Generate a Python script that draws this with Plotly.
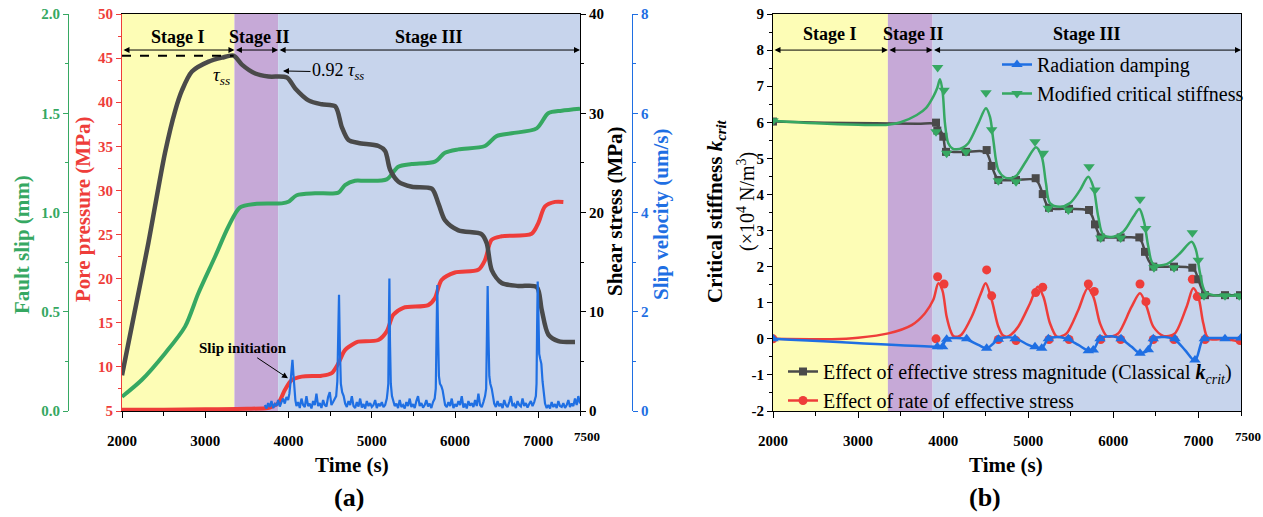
import plotly.graph_objects as go

W, H = 1263, 517
FONT = "Liberation Serif"

GREEN = "#36a862"
RED = "#ee3d3a"
BLUE = "#1f6fe3"
GRAY = "#4a4a4a"
BG_STAGE = ["#fdfdb6", "#c6a9d7", "#c7d4ec"]

# ---------------- shared ----------------
stage_bounds = [2000, 3350, 3875, 7500]
stage_names = ["Stage I", "Stage II", "Stage III"]
x_range = [2000, 7500]

# ---------------- panel (a) ----------------
shear_time = [2000, 2150, 2316, 2516, 2640, 2720, 2840, 3040, 3200, 3340, 3440, 3600, 3760,
              3980, 4080, 4240, 4400, 4560, 4640, 4720, 4840, 5080, 5160, 5220, 5320, 5480,
              5720, 5800, 5880, 6040, 6320, 6380, 6440, 6560, 6760, 6980, 7040, 7120, 7240, 7440]
shear_stress = [3.6, 9.9, 16.9, 26.0, 30.3, 32.3, 34.2, 35.2, 35.6, 35.8, 34.9, 34.0, 33.7,
                33.6, 32.5, 31.3, 30.9, 30.7, 28.6, 27.3, 27.0, 26.7, 26.2, 24.3, 23.1, 22.6,
                22.4, 20.9, 19.2, 18.2, 17.8, 16.9, 14.2, 12.9, 12.6, 12.5, 10.2, 7.7, 7.05, 6.95]

slip_time = [2000, 2236, 2516, 2757, 2917, 3117, 3277, 3417, 3597, 3918, 3998, 4098, 4318,
             4598, 4678, 4798, 4918, 5178, 5318, 5478, 5758, 5878, 6038, 6359, 6499, 6679,
             6980, 7118, 7280, 7500]
fault_slip = [0.072, 0.156, 0.29, 0.425, 0.593, 0.777, 0.928, 1.026, 1.043, 1.046, 1.054, 1.087, 1.097,
              1.100, 1.138, 1.160, 1.160, 1.167, 1.231, 1.244, 1.256, 1.301, 1.318, 1.335, 1.385, 1.399,
              1.424, 1.500, 1.513, 1.523]

pore_time = [2000, 2500, 3000, 3500, 3750, 3800, 3877, 3957, 4037, 4158, 4398, 4518, 4598,
             4678, 4798, 4838, 5078, 5178, 5258, 5378, 5678, 5758, 5838, 5998, 6278, 6359,
             6438, 6558, 6919, 6999, 7080, 7200, 7300]
pore_pressure = [5.15, 5.15, 5.2, 5.25, 5.35, 5.5, 5.9, 7.4, 8.5, 8.9, 9.0, 9.3, 10.4,
                 11.9, 12.7, 12.86, 13.05, 14.0, 15.9, 16.7, 17.0, 17.8, 19.85, 20.7, 21.0, 22.1,
                 24.4, 24.8, 25.1, 26.3, 28.2, 28.7, 28.7]

vel_time = [3715, 3735, 3755, 3775, 3795, 3815, 3835, 3855, 3875, 3895, 3915, 3935, 3955, 3975, 3995, 4010,
            4022, 4036, 4047, 4058, 4070, 4082,
            4095, 4115, 4135, 4155, 4175, 4195, 4215, 4235, 4255, 4275, 4295, 4315, 4335, 4355, 4375, 4395,
            4415, 4435, 4455, 4475, 4495, 4515, 4535, 4555,
            4572, 4586, 4596, 4606, 4616, 4628, 4644, 4662, 4680,
            4700, 4720, 4740, 4760, 4780, 4800, 4820, 4840, 4860, 4880, 4900, 4920, 4940, 4960, 4980, 5000,
            5020, 5040, 5060, 5080, 5100, 5120, 5140, 5160, 5180,
            5190, 5198, 5204, 5211, 5218, 5228, 5242, 5258,
            5275, 5295, 5315, 5335, 5355, 5375, 5395, 5415, 5435, 5455, 5475, 5495, 5515, 5535, 5555, 5575,
            5595, 5615, 5635, 5655, 5675, 5695, 5715, 5735, 5755,
            5768, 5777, 5786, 5796, 5806, 5818, 5835, 5850, 5865, 5880,
            5900, 5920, 5940, 5960, 5980, 6000, 6020, 6040, 6060, 6080, 6100, 6120, 6140, 6160, 6180, 6200,
            6220, 6240, 6260, 6280, 6300, 6320, 6340, 6360,
            6373, 6382, 6391, 6401, 6411, 6423, 6440, 6455, 6470,
            6490, 6510, 6530, 6550, 6570, 6590, 6610, 6630, 6650, 6670, 6690, 6710, 6730, 6750, 6770, 6790,
            6810, 6830, 6850, 6870, 6890, 6910, 6930, 6950, 6970,
            6978, 6985, 6992, 7001, 7010, 7022, 7036, 7050, 7065, 7080,
            7100, 7120, 7140, 7160, 7180, 7200, 7220, 7240, 7260, 7280, 7300, 7320, 7340, 7360, 7380, 7400,
            7420, 7440, 7460, 7480, 7500]
slip_velocity = [0.12, 0.05, 0.16, 0.08, 0.20, 0.06, 0.14, 0.10, 0.22, 0.09, 0.18, 0.25, 0.15, 0.28, 0.22, 0.35,
                 0.55, 0.85, 1.03, 0.75, 0.38, 0.22,
                 0.10, 0.18, 0.06, 0.25, 0.12, 0.08, 0.30, 0.10, 0.15, 0.05, 0.20, 0.12, 0.35, 0.10, 0.16, 0.06,
                 0.22, 0.12, 0.09, 0.28, 0.38, 0.12, 0.18, 0.25,
                 0.30, 0.60, 1.50, 2.34, 1.30, 0.55, 0.38, 0.30, 0.15,
                 0.08, 0.20, 0.12, 0.30, 0.10, 0.06, 0.18, 0.09, 0.25, 0.07, 0.14, 0.05, 0.20, 0.10, 0.16, 0.08,
                 0.12, 0.22, 0.06, 0.15, 0.10, 0.18, 0.08, 0.12, 0.25,
                 0.40, 0.55, 1.60, 2.67, 1.40, 0.55, 0.30, 0.20,
                 0.10, 0.15, 0.06, 0.22, 0.08, 0.12, 0.05, 0.18, 0.10, 0.25, 0.08, 0.14, 0.06, 0.20, 0.30, 0.10,
                 0.16, 0.07, 0.12, 0.22, 0.09, 0.15, 0.06, 0.18, 0.25,
                 0.45, 1.70, 2.54, 1.50, 0.70, 0.55, 0.50, 0.42, 0.25, 0.12,
                 0.08, 0.18, 0.10, 0.25, 0.06, 0.14, 0.09, 0.20, 0.12, 0.30, 0.07, 0.15, 0.05, 0.20, 0.11, 0.16,
                 0.08, 0.22, 0.10, 0.35, 0.12, 0.08, 0.18, 0.30,
                 0.45, 1.60, 2.52, 1.50, 0.70, 0.55, 0.45, 0.30, 0.15,
                 0.08, 0.20, 0.10, 0.15, 0.06, 0.22, 0.12, 0.08, 0.18, 0.30, 0.10, 0.14, 0.06, 0.20, 0.12, 0.09,
                 0.25, 0.10, 0.16, 0.07, 0.14, 0.20, 0.10, 0.18, 0.30,
                 0.55, 1.70, 2.61, 1.90, 1.15, 1.05, 0.95, 0.60, 0.30, 0.15,
                 0.06, 0.12, 0.05, 0.18, 0.08, 0.14, 0.06, 0.20, 0.10, 0.08, 0.16, 0.06, 0.12, 0.22, 0.08, 0.15,
                 0.10, 0.25, 0.12, 0.30, 0.15]
assert len(vel_time) == len(slip_velocity)

tau_ss = 35.8

# ---------------- panel (b) ----------------
classical_time = [2000, 2600, 3200, 3700, 3916, 3960, 4001, 4033, 4100, 4268, 4450, 4511, 4570, 4610,
                  4648, 4856, 5050, 5110, 5170, 5210, 5244, 5479, 5680, 5740, 5784, 5820, 5851,
                  6086, 6280, 6330, 6372, 6420, 6469, 6713, 6900, 6960, 6998, 7040, 7077, 7312, 7500]
classical_k = [6.02, 5.99, 5.97, 5.96, 5.95, 5.80, 5.60, 5.22, 5.18, 5.18, 5.20, 5.15, 4.79, 4.55,
               4.42, 4.40, 4.42, 4.35, 4.01, 3.75, 3.63, 3.60, 3.57, 3.45, 3.17, 2.95, 2.83,
               2.81, 2.80, 2.70, 2.41, 2.15, 2.02, 2.00, 1.97, 1.88, 1.65, 1.38, 1.23, 1.21, 1.21]
classical_mark_time = [2000, 3916, 3931, 4001, 4033, 4268, 4511, 4570, 4648, 4856, 5087, 5170, 5244, 5479,
                       5714, 5784, 5851, 6086, 6305, 6372, 6469, 6713, 6928, 6998, 7077, 7312, 7488]
classical_mark_k = [6.02, 5.99, 5.77, 5.60, 5.18, 5.18, 5.23, 4.79, 4.40, 4.40, 4.45, 4.01, 3.63, 3.60,
                    3.57, 3.17, 2.81, 2.81, 2.81, 2.41, 2.00, 2.00, 1.97, 1.65, 1.21, 1.21, 1.21]

modified_time = [2000, 2500, 3000, 3350, 3500, 3690, 3800, 3884, 3930, 3963, 3995, 4021, 4060, 4110,
                 4159, 4230, 4295, 4413, 4503, 4550, 4589, 4648, 4726, 4790, 4856, 4981, 5091,
                 5158, 5208, 5255, 5373, 5490, 5608, 5705, 5764, 5823, 5882, 6000, 6117, 6234,
                 6305, 6360, 6411, 6469, 6627, 6783, 6920, 6971, 7018, 7077, 7175, 7500]
modified_k = [6.04, 5.97, 5.93, 5.93, 6.00, 6.20, 6.40, 6.71, 6.95, 7.19, 6.80, 5.97, 5.42, 5.27,
              5.25, 5.30, 5.42, 5.97, 6.39, 6.15, 5.51, 4.68, 4.47, 4.45, 4.51, 4.95, 5.31,
              5.05, 4.31, 3.76, 3.66, 3.76, 4.12, 4.49, 4.21, 3.38, 2.88, 2.83, 2.97, 3.38,
              3.60, 3.25, 2.55, 2.07, 2.07, 2.37, 2.69, 2.46, 1.82, 1.31, 1.21, 1.21]
modified_mark_time = [2000, 3935, 4010, 3916, 4041, 4268, 4503, 4570, 4648, 4856, 5079, 5177, 5236, 5471,
                      5714, 5784, 5851, 6086, 6313, 6380, 6477, 6713, 6928, 6998, 7065, 7312, 7480]
modified_mark_k = [6.04, 7.52, 6.89, 5.74, 5.14, 5.18, 6.82, 5.79, 4.38, 4.35, 5.46, 5.14, 3.62, 3.57,
                   4.77, 4.12, 2.79, 2.79, 3.87, 3.06, 1.97, 1.97, 2.94, 2.18, 1.19, 1.19, 1.19]

rate_time = [2000, 2690, 3000, 3356, 3630, 3786, 3884, 3943, 3990, 4041, 4090, 4119, 4170, 4217,
             4335, 4444, 4499, 4570, 4648, 4700, 4746, 4800, 4883, 5020, 5111, 5177, 5255,
             5334, 5390, 5451, 5588, 5698, 5764, 5843, 5921, 5990, 6058, 6215, 6313, 6391,
             6469, 6586, 6650, 6724, 6861, 6939, 6998, 7057, 7116, 7312, 7500]
rate_k = [0.00, -0.01, 0.03, 0.15, 0.38, 0.71, 1.08, 1.54, 1.35, 0.61, 0.20, 0.08, 0.06, 0.12,
          0.61, 1.26, 1.54, 1.08, 0.34, 0.10, 0.06, 0.12, 0.34, 0.98, 1.44, 1.17, 0.43,
          0.06, 0.07, 0.15, 0.80, 1.40, 1.17, 0.43, 0.08, 0.07, 0.15, 0.89, 1.26, 0.89,
          0.34, 0.08, 0.08, 0.15, 0.89, 1.40, 1.17, 0.43, 0.01, -0.01, -0.08]
rate_mark_time = [2000, 3916, 3935, 4010, 4511, 4570, 4648, 4856, 5087, 5170, 5244, 5479, 5706, 5776,
                  5851, 6086, 6313, 6383, 6469, 6713, 6928, 6986, 7077, 7488]
rate_mark_k = [0.00, 0.00, 1.72, 1.52, 1.91, 1.19, -0.02, -0.05, 1.28, 1.43, -0.02, -0.02, 1.52, 1.31,
               -0.02, -0.02, 1.52, 1.03, -0.02, -0.02, 1.65, 1.17, -0.02, -0.05]

damping_time = [2000, 3904, 3982, 4041, 4150, 4256, 4413, 4511, 4580, 4648, 4765, 4864, 5000, 5087,
                5158, 5236, 5353, 5451, 5588, 5706, 5764, 5843, 5980, 6090, 6215, 6313, 6411,
                6469, 6606, 6724, 6842, 6959, 7057, 7150, 7312, 7500]
damping_k = [0.00, -0.22, -0.22, 0.00, 0.02, 0.00, -0.17, -0.27, -0.15, -0.01, 0.04, 0.00, -0.17, -0.24,
             -0.26, 0.00, 0.05, 0.00, -0.17, -0.33, -0.31, 0.00, 0.07, 0.00, -0.22, -0.40, -0.31,
             0.00, 0.05, -0.03, -0.31, -0.60, 0.00, 0.02, 0.02, 0.02]
damping_mark_time = [2000, 3931, 3994, 4041, 4276, 4511, 4648, 4844, 5079, 5158, 5236, 5471, 5706, 5764,
                     5843, 6090, 6313, 6411, 6469, 6724, 6959, 7069, 7312, 7500]
damping_mark_k = [0.00, -0.22, -0.22, -0.01, 0.00, -0.26, -0.01, 0.00, -0.22, -0.26, 0.00, 0.00, -0.33, -0.31,
                  0.00, 0.00, -0.40, -0.30, 0.00, 0.00, -0.59, 0.00, 0.00, 0.02]

kcrit_ticks = [-2, -1, 0, 1, 2, 3, 4, 5, 6, 7, 8, 9]
kcrit_ticktext = ["-2", "-1", "0", "1", "2", "3", "4", "5", "6", "7", "8", "9"]

# ---------------- layout geometry (pixels) ----------------
def fx(p):
    return p / W


def fy(p):
    return 1 - p / H


YDOM = [fy(411), fy(14)]
A_DOM = [fx(122), fx(580)]
B_DOM = [fx(773), fx(1241)]

fig = go.Figure()

# ---- panel (a) traces ----
fig.add_trace(go.Scatter(x=pore_time, y=pore_pressure, xaxis="x", yaxis="y", mode="lines",
                         line=dict(color=RED, width=4, shape="spline", smoothing=0.8),
                         showlegend=False, hoverinfo="skip"))
fig.add_trace(go.Scatter(x=slip_time, y=fault_slip, xaxis="x", yaxis="y2", mode="lines",
                         line=dict(color=GREEN, width=4, shape="spline", smoothing=0.8),
                         showlegend=False, hoverinfo="skip"))
fig.add_trace(go.Scatter(x=shear_time, y=shear_stress, xaxis="x", yaxis="y3", mode="lines",
                         line=dict(color=GRAY, width=4.5, shape="spline", smoothing=0.8),
                         showlegend=False, hoverinfo="skip"))
fig.add_trace(go.Scatter(x=vel_time, y=slip_velocity, xaxis="x", yaxis="y4", mode="lines",
                         line=dict(color=BLUE, width=2.2),
                         showlegend=False, hoverinfo="skip"))

# ---- panel (b) traces ----
series_b = [
    (rate_time, rate_k, rate_mark_time, rate_mark_k, RED, "circle", 9),
    (classical_time, classical_k, classical_mark_time, classical_mark_k, GRAY, "square", 8),
    (modified_time, modified_k, modified_mark_time, modified_mark_k, GREEN, "triangle-down", 10),
    (damping_time, damping_k, damping_mark_time, damping_mark_k, BLUE, "triangle-up", 10),
]
for lt, lv, mt, mv, col, sym, sz in series_b:
    fig.add_trace(go.Scatter(x=lt, y=lv, xaxis="x2", yaxis="y5", mode="lines",
                             line=dict(color=col, width=2.5, shape="spline", smoothing=0.9),
                             showlegend=False, hoverinfo="skip"))
    fig.add_trace(go.Scatter(x=mt, y=mv, xaxis="x2", yaxis="y5", mode="markers",
                             marker=dict(color=col, symbol=sym, size=sz, line=dict(width=0)),
                             showlegend=False, hoverinfo="skip"))

# legend entries
legend_items = [
    ("Radiation damping", BLUE, "triangle-up", 10, "legend"),
    ("Modified critical stiffness", GREEN, "triangle-down", 10, "legend"),
    ("Effect of effective stress magnitude (Classical <b><i>k</i></b><sub><i>crit</i></sub>)",
     GRAY, "square", 8, "legend2"),
    ("Effect of rate of effective stress", RED, "circle", 9, "legend2"),
]
for name, col, sym, sz, lg in legend_items:
    fig.add_trace(go.Scatter(x=[None], y=[None], xaxis="x2", yaxis="y5", mode="lines+markers",
                             name=name, legend=lg,
                             line=dict(color=col, width=2.5),
                             marker=dict(color=col, symbol=sym, size=sz)))

# ---- shading ----
shapes = []
for xr in ["x", "x2"]:
    for i in range(3):
        shapes.append(dict(type="rect", xref=xr, yref=("y domain" if xr == "x" else "y5 domain"),
                           x0=stage_bounds[i], x1=stage_bounds[i + 1], y0=0, y1=1,
                           fillcolor=BG_STAGE[i], line=dict(width=0), layer="below"))
# tau_ss dashed line
shapes.append(dict(type="line", xref="x", yref="y3", x0=stage_bounds[0], x1=stage_bounds[1] - 10,
                   y0=tau_ss, y1=tau_ss, line=dict(color="black", width=2, dash="dash")))

tick_font = dict(family=FONT, size=15, weight="bold")


def axfont(color):
    d = dict(tick_font)
    d["color"] = color
    return d


annotations = []

# stage labels and arrows
for xr, yr, ylab, yarr in [("x", "y3", 37.7, 36.37), ("x2", "y5", 8.45, 8.0)]:
    for i in range(3):
        a, b = stage_bounds[i], stage_bounds[i + 1]
        annotations.append(dict(xref=xr, yref=yr, x=(a + b) / 2 + (40 if i == 1 else 0), y=ylab,
                                text=stage_names[i], showarrow=False,
                                font=dict(family=FONT, size=18, weight="bold", color="black")))
        annotations.append(dict(xref=xr, yref=yr, axref=xr, ayref=yr, x=b, y=yarr, ax=a, ay=yarr,
                                text="", showarrow=True, arrowhead=2, startarrowhead=2,
                                arrowside="end+start", arrowsize=1.2, startarrowsize=1.2,
                                arrowwidth=1, arrowcolor="black"))

# tau_ss labels
annotations.append(dict(xref="x", yref="y3", x=3200, y=33.8, text="<i>τ<sub>ss</sub></i>",
                        showarrow=False, font=dict(family=FONT, size=19, color="black")))
annotations.append(dict(xref="x", yref="y3", x=3933, y=34.26, ax=55, ay=1,
                        text="0.92 <i>τ<sub>ss</sub></i>", showarrow=True, arrowhead=2,
                        arrowsize=1.2, arrowwidth=1, arrowcolor="black",
                        font=dict(family=FONT, size=18, color="black")))
annotations.append(dict(xref="x", yref="y3", x=3993, y=3.3, ax=-45, ay=-30,
                        text="Slip initiation", showarrow=True, arrowhead=2,
                        arrowsize=1.2, arrowwidth=1, arrowcolor="black",
                        font=dict(family=FONT, size=15, weight="bold", color="black")))

# 7500 labels
for xr in ["x", "x2"]:
    annotations.append(dict(xref=xr, yref="paper", x=7500, y=fy(436), xshift=7,
                            xanchor="center", yanchor="middle",
                            text="7500", showarrow=False,
                            font=dict(family=FONT, size=13, weight="bold", color="black")))


def title_ann(text, xpx, ypx, color, angle=-90, size=21, weight="bold"):
    return dict(xref="paper", yref="paper", x=fx(xpx), y=fy(ypx), text=text, showarrow=False,
                textangle=angle, xanchor="center", yanchor="middle",
                font=dict(family=FONT, size=size, weight=weight, color=color))


annotations += [
    title_ann("Fault slip (mm)", 22, 245, GREEN),
    title_ann("Pore pressure (MPa)", 83, 210, RED),
    title_ann("Shear stress (MPa)", 615, 211, "black"),
    title_ann("Slip velocity (um/s)", 661, 214, BLUE),
    title_ann("Critical stiffness <i>k</i><sub><i>crit</i></sub>", 716, 212, "black"),
    title_ann("(×10<sup>4</sup> N/m<sup>3</sup>)", 746, 202, "black", size=20, weight="normal"),
    title_ann("Time (s)", 352, 465, "black", angle=0),
    title_ann("Time (s)", 1006, 465, "black", angle=0),
    title_ann("(a)", 349, 497, "black", angle=0, size=26),
    title_ann("(b)", 985, 497, "black", angle=0, size=26),
]

common_x = dict(range=x_range, tickmode="linear", tick0=2000, dtick=1000, ticks="outside",
                ticklen=6, tickwidth=1.2, tickcolor="black", showline=True, linecolor="black",
                linewidth=1.2, mirror=True, showgrid=False, zeroline=False, automargin=False,
                tickfont=axfont("black"), ticklabelstandoff=10,
                minor=dict(dtick=500, tick0=2000, ticks="outside", ticklen=3.5, tickwidth=1.2,
                           tickcolor="black", showgrid=False))


def yax(color, rng, dtick, minor, **kw):
    d = dict(range=rng, tickmode="linear", tick0=rng[0], dtick=dtick, ticks="outside", ticklen=5,
             tickwidth=1.2, tickcolor=color, showline=True, linecolor=color, linewidth=1.2,
             showgrid=False, zeroline=False, tickfont=axfont(color), domain=YDOM, automargin=False,
             minor=dict(dtick=minor, tick0=rng[0], ticks="outside", ticklen=3, tickwidth=1.2,
                        tickcolor=color, showgrid=False))
    d.update(kw)
    return d


fig.update_layout(
    width=W, height=H, margin=dict(l=0, r=0, t=0, b=0, autoexpand=False),
    paper_bgcolor="white", plot_bgcolor="rgba(0,0,0,0)",
    xaxis=dict(domain=A_DOM, anchor="y", **common_x),
    xaxis2=dict(domain=B_DOM, anchor="y5", **common_x),
    yaxis=yax(RED, [5, 50], 5, 2.5, anchor="x", side="left"),
    yaxis2=yax(GREEN, [0, 2], 0.5, 0.25, overlaying="y", anchor="free", position=fx(68),
               side="left", tickformat=".1f"),
    yaxis3=yax("black", [0, 40], 10, 5, overlaying="y", anchor="x", side="right"),
    yaxis4=yax(BLUE, [0, 8], 2, 1, overlaying="y", anchor="free", position=fx(632), side="right"),
    yaxis5=dict(yax("black", [-2, 9], 1, 0.5, anchor="x2", side="left", mirror=True),
                tickmode="array", tickvals=kcrit_ticks, ticktext=kcrit_ticktext),
    shapes=shapes,
    annotations=annotations,
    legend=dict(x=fx(997), y=fy(45), xanchor="left", yanchor="top", bgcolor="rgba(0,0,0,0)",
                font=dict(family=FONT, size=20, color="black"), itemwidth=30, tracegroupgap=0),
    legend2=dict(x=fx(783), y=fy(352), xanchor="left", yanchor="top", bgcolor="rgba(0,0,0,0)",
                 font=dict(family=FONT, size=20, color="black"), itemwidth=30, tracegroupgap=0),
)

fig.write_html("out.html")
